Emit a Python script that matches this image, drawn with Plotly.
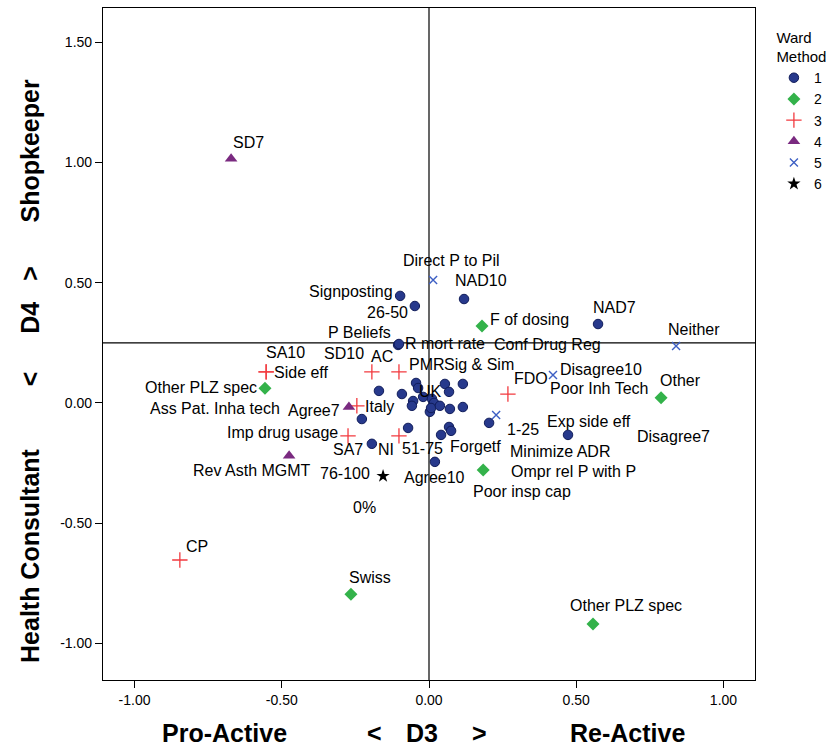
import plotly.graph_objects as go

# ---------------- data ----------------
# Cluster 1
names1 = ["Signposting", "26-50", "NAD10", "NAD7", "P Beliefs", "R mort rate", "Conf Drug Reg",
          "Sig & Sim", "PMR", "UK", "Ass Pat. Inha tech", "1-25", "Exp side eff", "Disagree7",
          "SA7", "51-75", "Forgetf", "Minimize ADR", "Agree10", "Poor insp cap", "0%",
          "", "", "", "", "", "", "", "", "", "", ""]
x1 = [-0.098, -0.048, 0.119, 0.574, -0.105, -0.102, 0.115, 0.054, -0.044, -0.020, -0.228, 0.204,
      0.472, 0.115, -0.194, -0.071, 0.068, 0.075, 0.020, 0.041, 0.003,
      -0.170, -0.092, -0.037, -0.054, -0.058, 0.010, 0.017, 0.007, 0.037, 0.068, 0.071]
y1 = [0.445, 0.403, 0.432, 0.328, 0.241, 0.245, 0.079, 0.079, 0.083, 0.025, -0.067, -0.083,
      -0.133, -0.017, -0.170, -0.104, -0.100, -0.116, -0.245, -0.133, -0.037,
      0.050, 0.037, 0.062, 0.008, -0.012, 0.017, 0.000, -0.021, -0.012, 0.046, -0.025]

# Cluster 2
names2 = ["F of dosing", "Other PLZ spec", "Other", "Ompr rel P with P", "Swiss", "Other PLZ spec"]
x2 = [0.180, -0.557, 0.788, 0.184, -0.265, 0.557]
y2 = [0.320, 0.061, 0.022, -0.279, -0.795, -0.919]

# Cluster 3
names3 = ["Side eff", "SA10", "SD10", "AC", "Italy", "Imp drug usage", "NI", "FDO", "CP"]
x3 = [-0.553, -0.553, -0.194, -0.102, -0.245, -0.275, -0.102, 0.268, -0.846]
y3 = [0.129, 0.129, 0.129, 0.129, -0.012, -0.137, -0.137, 0.037, -0.653]

# Cluster 4
names4 = ["SD7", "Agree7", "Rev Asth MGMT"]
x4 = [-0.672, -0.272, -0.475]
y4 = [1.015, -0.017, -0.220]

# Cluster 5
names5 = ["Direct P to Pil", "Neither", "Disagree10", "Poor Inh Tech"]
x5 = [0.014, 0.839, 0.421, 0.228]
y5 = [0.511, 0.237, 0.116, -0.050]

# Cluster 6
names6 = ["76-100"]
x6 = [-0.156]
y6 = [-0.304]

cluster_names = ["1", "2", "3", "4", "5", "6"]
tick_vals_x = [-1.0, -0.5, 0.0, 0.5, 1.0]
tick_text_x = ["-1.00", "-0.50", "0.00", "0.50", "1.00"]
tick_vals_y = [-1.0, -0.5, 0.0, 0.5, 1.0, 1.5]
tick_text_y = ["-1.00", "-0.50", "0.00", "0.50", "1.00", "1.50"]
ref_x = 0.0
ref_y = 0.25

# ---------------- label placement (pixel offsets from the point) ----------------
off1 = [(-5, -4, "right"), (-5, 6, "right"), (17, -19, "center"), (16, -17, "center"),
        (-5, -12, "right"), (4, -1, "left"), (29, -39, "left"), (-3, -19, "left"),
        (-9, -18, "left"), (7, -5, "center"), (-80, -11, "right"), (16, 7, "left"),
        (-23, -13, "left"), (172, 29, "left"), (-7, 6, "right"), (-8, 21, "left"),
        (-1, 20, "left"), (57, 21, "left"), (-33, 16, "left"), (30, 57, "left"),
        (-65, 96, "center")]
off2 = [(6, -6, "left"), (-6, -1, "right"), (19, -17, "center"), (26, 1, "left"),
        (19, -17, "center"), (33, -18, "center")]
off3 = [(6, 1, "left"), (19, -19, "center"), (-28, -18, "center"), (-17, -15, "center"),
        (6, 1, "left"), (-8, -3, "right"), (-13, 14, "center"), (23, -16, "center"),
        (17, -13, "center")]
off4 = [(17, -16, "center"), (-7, 3, "right"), (24, 15, "right")]
off5 = [(18, -20, "center"), (18, -16, "center"), (5, -6, "left"), (52, -26, "left")]
off6 = [(-11, -3, "right")]

styles = [
    dict(symbol="circle", size=9.5, color="#27398c", line=dict(color="#101c5a", width=1)),
    dict(symbol="diamond", size=10, color="#33b24a", line=dict(color="#33b24a", width=0)),
    dict(symbol="cross-thin", size=11, color="#f23a3f", line=dict(color="#f23a3f", width=1.3)),
    dict(symbol="triangle-up", size=11, color="#7a2a80", line=dict(color="#7a2a80", width=0)),
    dict(symbol="x-thin", size=8, color="#3d5fc4", line=dict(color="#3d5fc4", width=1.4)),
    dict(symbol="star", size=10, color="#000000", line=dict(color="#000000", width=0)),
]

series = [(names1, x1, y1, off1), (names2, x2, y2, off2), (names3, x3, y3, off3),
          (names4, x4, y4, off4), (names5, x5, y5, off5), (names6, x6, y6, off6)]

LABEL_FONT = dict(family="Liberation Sans, Arial, sans-serif", size=16, color="black")
TITLE_FONT = dict(family="Liberation Sans Narrow, Liberation Sans, Arial, sans-serif",
                  size=25, color="black", weight="bold")

fig = go.Figure()
annotations = []
for cname, (names, xs, ys, offs), st in zip(cluster_names, series, styles):
    fig.add_trace(go.Scatter(x=xs, y=ys, mode="markers", name=cname, text=names,
                             hoverinfo="text", marker=st))
    for i, (dx, dy, anc) in enumerate(offs):
        if not names[i]:
            continue
        annotations.append(dict(x=xs[i], y=ys[i], xref="x", yref="y", text=names[i],
                                showarrow=False, xanchor=anc, yanchor="middle",
                                xshift=dx, yshift=-dy, font=LABEL_FONT))

# axis titles
x_title_parts = [("Pro-Active", 0.187), ("<", 0.417), ("D3", 0.489), (">", 0.578), ("Re-Active", 0.805)]
for t, px in x_title_parts:
    annotations.append(dict(x=px, y=-0.079, xref="paper", yref="paper", text=t, showarrow=False,
                            xanchor="center", yanchor="middle", font=TITLE_FONT))
y_title_parts = [("Shopkeeper", 0.788), (">", 0.606), ("D4", 0.539), ("<", 0.449), ("Health Consultant", 0.186)]
for t, py in y_title_parts:
    annotations.append(dict(x=-0.112, y=py, xref="paper", yref="paper", text=t, showarrow=False,
                            xanchor="center", yanchor="middle", textangle=-90, font=TITLE_FONT))

fig.update_layout(
    width=839, height=747,
    margin=dict(l=103, r=84, t=8, b=67),
    paper_bgcolor="white", plot_bgcolor="white",
    showlegend=True,
    legend=dict(x=1.029, y=0.9775, xanchor="left", yanchor="top",
                title=dict(text="Ward<br>Method", side="top center",
                           font=dict(family="Liberation Sans, Arial, sans-serif", size=15, color="black")),
                font=dict(family="Liberation Sans, Arial, sans-serif", size=14, color="black"),
                bgcolor="rgba(0,0,0,0)", tracegroupgap=0),
    annotations=annotations,
    shapes=[
        dict(type="line", xref="x", yref="paper", x0=ref_x, x1=ref_x, y0=0, y1=1,
             line=dict(color="black", width=1.2), layer="below"),
        dict(type="line", xref="paper", yref="y", x0=0, x1=1, y0=ref_y, y1=ref_y,
             line=dict(color="black", width=1.2), layer="below"),
    ],
)
axis_common = dict(showgrid=False, zeroline=False, showline=True, mirror=True, linecolor="black",
                   linewidth=1.2, ticks="outside", ticklen=7, tickcolor="black", tickwidth=1,
                   tickfont=dict(family="Liberation Sans, Arial, sans-serif", size=14, color="black"))
fig.update_xaxes(range=[-1.107, 1.107], tickmode="array", tickvals=tick_vals_x, ticktext=tick_text_x,
                 **axis_common)
fig.update_yaxes(range=[-1.152, 1.642], tickmode="array", tickvals=tick_vals_y, ticktext=tick_text_y,
                 **axis_common)

fig.write_html("out.html", config={"displayModeBar": False},
               post_script="document.body.style.margin='0px';document.body.style.overflow='hidden';")
